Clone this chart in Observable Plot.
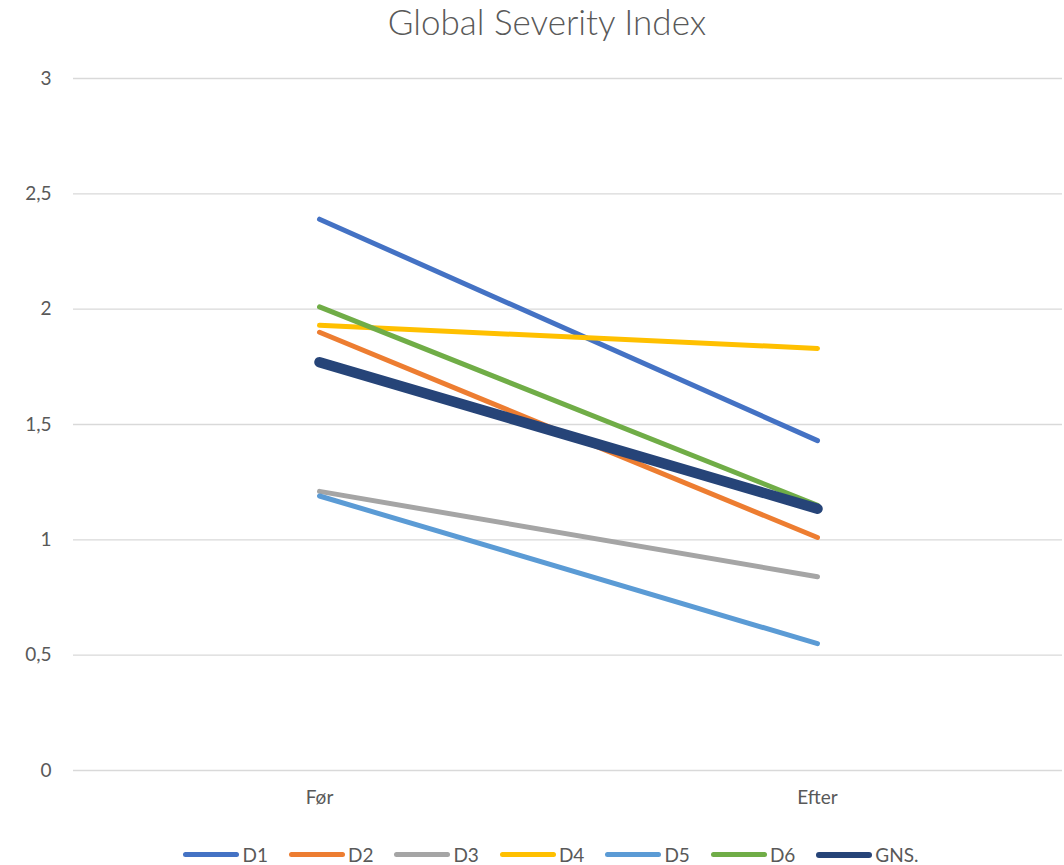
<!DOCTYPE html>
<html>
<head>
<meta charset="utf-8">
<script src="https://cdn.jsdelivr.net/npm/d3@7"></script>
<script src="https://cdn.jsdelivr.net/npm/@observablehq/plot@0.6"></script>
<style>
  body { margin: 0; background: #fff; font-family: Lato, "Open Sans", sans-serif; color: #595959; }
  #title { box-sizing: border-box; width: 1064px; height: 50px; padding-left: 30px; padding-top: 2px;
           text-align: center; font-size: 35px; font-weight: 300; line-height: 38px; color: #595959; }
  #chart svg { display: block; }
  #legend { box-sizing: border-box; width: 1064px; height: 35px; padding-left: 38px; padding-top: 14px;
            display: flex; justify-content: center; align-items: center; font-size: 19px; color: #595959; }
  .item { display: flex; align-items: center; margin-right: 21px; }
  .item:last-child { margin-right: 0; }
  .sw { display: inline-block; width: 56px; border-radius: 4px; margin-right: 3px; }
</style>
</head>
<body>
<div id="title">Global Severity Index</div>
<div id="chart"></div>
<div id="legend"></div>
<script>
const periods = ["Før", "Efter"];
const seriesNames = ["D1", "D2", "D3", "D4", "D5", "D6", "GNS."];
const d1 = [2.39, 1.43];
const d2 = [1.90, 1.01];
const d3 = [1.21, 0.84];
const d4 = [1.93, 1.83];
const d5 = [1.19, 0.55];
const d6 = [2.01, 1.15];
const gns = [1.77, 1.135];
const yTicks = [0, 0.5, 1, 1.5, 2, 2.5, 3];
const colors = ["#4472C4", "#ED7D31", "#A5A5A5", "#FFC000", "#5B9BD5", "#70AD47", "#264478"];

const seriesValues = [d1, d2, d3, d4, d5, d6, gns];
const rows = [];
seriesNames.forEach((s, i) => periods.forEach((p, j) => rows.push({series: s, period: p, value: seriesValues[i][j]})));
const dRows = rows.filter(r => r.series !== "GNS.");
const gRows = rows.filter(r => r.series === "GNS.");

const chart = Plot.plot({
  width: 1064,
  height: 780,
  marginTop: 28,
  marginBottom: 60,
  marginLeft: 73,
  marginRight: 2,
  style: { fontSize: "19px", fontFamily: "Lato, 'Open Sans', sans-serif", color: "#595959", background: "#fff" },
  x: { type: "point", domain: periods, range: [319, 817], padding: 0, label: null },
  y: { domain: [0, 3], label: null },
  color: { domain: seriesNames, range: colors },
  marks: [
    Plot.gridY(yTicks, { stroke: "#d9d9d9", strokeOpacity: 1, strokeWidth: 1.3 }),
    Plot.axisY({ ticks: yTicks, tickSize: 0, tickPadding: 22, label: null, fontSize: 19, tickFormat: d => String(d).replace(".", ",") }),
    Plot.axisX({ tickSize: 0, tickPadding: 20, label: null, fontSize: 19 }),
    Plot.line(dRows, { x: "period", y: "value", z: "series", stroke: "series", strokeWidth: 5, strokeLinecap: "round" }),
    Plot.line(gRows, { x: "period", y: "value", z: "series", stroke: "series", strokeWidth: 10.5, strokeLinecap: "round" })
  ]
});
document.getElementById("chart").appendChild(chart);

const legend = document.getElementById("legend");
seriesNames.forEach((s, i) => {
  const item = document.createElement("div");
  item.className = "item";
  const sw = document.createElement("span");
  sw.className = "sw";
  sw.style.background = colors[i];
  sw.style.height = s === "GNS." ? "6px" : "5px";
  const lab = document.createElement("span");
  lab.textContent = s;
  item.appendChild(sw);
  item.appendChild(lab);
  legend.appendChild(item);
});
</script>
</body>
</html>
